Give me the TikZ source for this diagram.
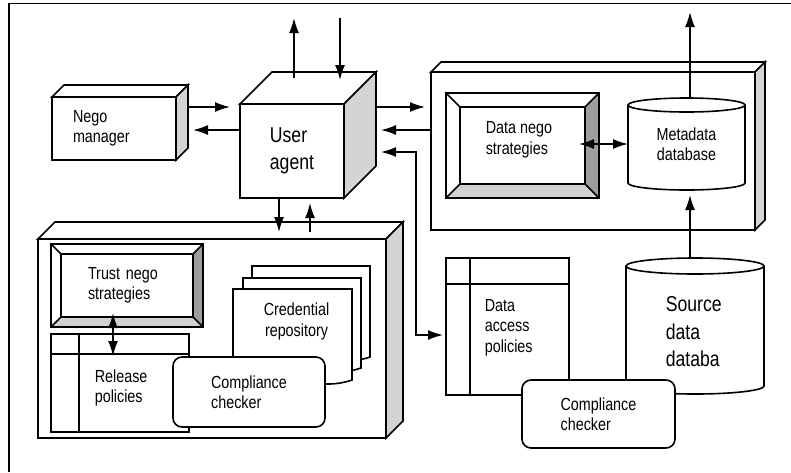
\documentclass[tikz,border=0pt]{standalone}
\usepackage{fontspec}
\setmainfont{Liberation Sans}[FakeStretch=0.82]
\usetikzlibrary{positioning, calc, arrows.meta}

\definecolor{sidegray}{gray}{0.83}
\definecolor{bevdark}{gray}{0.62}
\definecolor{bevlight}{gray}{0.82}

\tikzset{
  lbl/.style={font=\fontsize{17.5}{20.5}\selectfont, align=left, inner sep=0pt},
  biglbl/.style={font=\fontsize{21.5}{27.5}\selectfont, align=left, inner sep=0pt},
  box/.style={draw, fill=white, outer sep=0pt, inner sep=0pt},
  shp/.style={outer sep=0pt, inner sep=0pt},
  ccbox/.style={box, rounded corners=9pt, lbl},
}

% top and side face of a box seen from the right
\newcommand{\boxfaces}[2]{%
  \draw[fill=white] (#1.north west) -- ++(#2,-#2) -- ($(#1.north east)+(#2,-#2)$) -- (#1.north east) -- cycle;
  \draw[fill=sidegray] (#1.north east) -- ++(#2,-#2) -- ($(#1.south east)+(#2,-#2)$) -- (#1.south east) -- cycle;
}
% sunken frame
\newcommand{\bevelbox}[2]{%
  \fill[bevdark] (#1.north east) -- (#1.south east) -- ($(#1.south east)+(-#2,-#2)$) -- ($(#1.north east)+(-#2,#2)$) -- cycle;
  \fill[bevlight] (#1.south west) -- (#1.south east) -- ($(#1.south east)+(-#2,-#2)$) -- ($(#1.south west)+(#2,-#2)$) -- cycle;
  \draw (#1.north west) rectangle (#1.south east);
  \draw ($(#1.north west)+(#2,#2)$) rectangle ($(#1.south east)+(-#2,-#2)$);
  \draw (#1.north west) -- ++(#2,#2);
  \draw (#1.north east) -- ++(-#2,#2);
  \draw (#1.south west) -- ++(#2,-#2);
  \draw (#1.south east) -- ++(-#2,-#2);
}
% database drum
\newcommand{\dbcyl}[3]{%
  \draw[fill=white] (#1.north west) -- (#1.south west) arc[start angle=180, end angle=360, x radius=#2, y radius=#3]
    -- (#1.north east) arc[start angle=0, end angle=180, x radius=#2, y radius=#3] -- cycle;
  \draw (#1.north west) arc[start angle=180, end angle=360, x radius=#2, y radius=#3];
}
% sheet with wavy bottom
\newcommand{\docpage}[1]{%
  \draw[fill=white] (#1.south west) -- (#1.north west) -- (#1.north east) -- (#1.south east)
    .. controls ($(#1.south east)+(-40,14)$) and ($(#1.south west)+(40,-14)$) .. (#1.south west) -- cycle;
}

\begin{document}
\begin{tikzpicture}[x=1pt, y=-1pt, line width=1.6pt, >={Latex[length=15pt,width=10pt]}]
\useasboundingbox (0,0) rectangle (791,472);

% frame
\draw[line width=1.2pt] (9,472) -- (9,3.5) -- (791,3.5);

% negotiation manager and user agent
\node[box, lbl, text width=82pt, inner xsep=21pt, minimum height=63pt] (nego) at (114,128.5) {Nego\\manager};
\boxfaces{nego}{12}

\node[box, biglbl, minimum width=104pt, minimum height=94pt] (ua) at (292,151) {User\\agent};
\boxfaces{ua}{32}

% data side
\node[box, minimum width=324pt, minimum height=158pt] (dbox) at (593,151) {};
\boxfaces{dbox}{10}

\node[box, minimum width=153pt, minimum height=105pt] (dns) at (522.5,145.5) {};
\bevelbox{dns}{14}
\node[lbl, anchor=west] (dnstext) at (485,140) {Data nego\\strategies};

\node[shp, minimum width=117pt, minimum height=78pt] (meta) at (686.5,144) {};
\dbcyl{meta}{58.5pt}{7pt}
\node[lbl, align=center] (metatext) at (meta) {Metadata\\database};

% trust side
\node[box, minimum width=348pt, minimum height=199pt] (tbox) at (212,338.5) {};
\boxfaces{tbox}{17}

\node[box, lbl, text width=78pt, inner xsep=37pt, minimum height=83pt] (tns) at (127,285.5) {Trust nego\\strategies};
\bevelbox{tns}{10}

\node[box, minimum width=138pt, minimum height=98pt] (rp) at (120,383) {};
\draw ($(rp.north west)+(28,0)$) -- ($(rp.south west)+(28,0)$);
\draw ($(rp.north west)+(0,20)$) -- ($(rp.north east)+(0,20)$);
\node[lbl, anchor=west] (rptext) at (94,388) {Release\\policies};

\node[shp, minimum width=118pt, minimum height=91pt] (crdb) at (311,311.5) {};
\node[shp, minimum width=118pt, minimum height=90pt] (crdm) at (302,323) {};
\node[shp, minimum width=119pt, minimum height=91pt] (crd) at (292.5,334.5) {};
\docpage{crdb}
\docpage{crdm}
\docpage{crd}
\node[lbl, align=center] (crdtext) at (296.5,321.5) {Credential\\repository};

\node[ccbox, minimum width=152pt, minimum height=70pt] (cc1) at (249,392) {Compliance\\checker};

% source side
\node[box, minimum width=123pt, minimum height=137pt] (dap) at (507.5,326.5) {};
\draw ($(dap.north west)+(24,0)$) -- ($(dap.south west)+(24,0)$);
\draw ($(dap.north west)+(0,26)$) -- ($(dap.north east)+(0,26)$);
\node[lbl, anchor=west] (daptext) at (484,327.5) {Data\\access\\policies};

\node[shp, minimum width=138pt, minimum height=120pt] (src) at (695,326) {};
\dbcyl{src}{69pt}{8pt}
\node[biglbl, anchor=west] (srctext) at (665,332) {Source\\data\\databa};

\node[ccbox, minimum width=153pt, minimum height=68pt] (cc2) at (598.5,414) {Compliance\\checker};

% connectors
\coordinate (uaout) at (294,18);
\coordinate (uain) at (340,18);
\coordinate (metaout) at (690,12);

\draw[->] ($(ua.north)+(2,-26)$) -- (uaout);
\draw[->] (uain) -- ($(ua.north)+(48,-24)$);
\draw[->] ($(nego.east)+(12,-21.5)$) -- ($(ua.west)+(-10,-44)$);
\draw[->] ($(ua.west)+(0,-21)$) -- ($(nego.east)+(17,1.5)$);
\draw[->] ($(ua.south)+(-13,0)$) -- ($(tbox.north)+(67,-7)$);
\draw[->] ($(tbox.north)+(98,-7)$) -- ($(ua.south)+(18,5)$);
\draw[->] ($(ua.east)+(32,-44)$) -- ($(dbox.west)+(-6,-44)$);
\draw[->] ($(dbox.west)+(0,-21)$) -- ($(ua.east)+(37,-21)$);
\draw[<->] ($(ua.east)+(37,1)$) -- ++(35,0) |- ($(dap.west)+(-3,8.5)$);
\draw[<->] ($(dns.east)+(-20,-1.5)$) -- (meta.west);
\draw[->] ($(meta.north)+(3.5,-7)$) -- (metaout);
\draw[->] ($(src.north)+(-5,-8)$) -- ($(meta.south)+(3.5,12)$);
\draw[<->] ($(tns.south)+(-14,-14)$) -- ($(rp.north)+(-7,22)$);

\end{tikzpicture}
\end{document}
